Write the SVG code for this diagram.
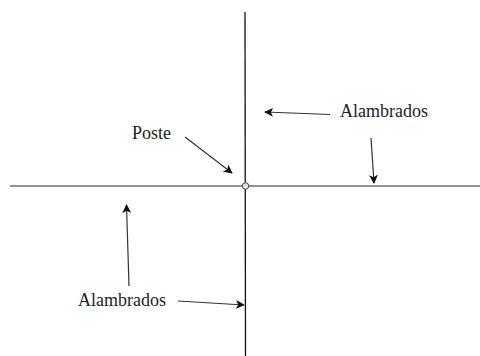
<svg xmlns="http://www.w3.org/2000/svg" width="480" height="356" viewBox="0 0 480 356">
  <style>
    .lbl { font-size: 18px; fill: #222; }
    .arr { stroke: #333; stroke-width: 1.2; fill: none; marker-end: url(#head); }
  </style>
  <defs>
    <marker id="head" viewBox="0 0 10 10" refX="9" refY="5" markerWidth="9" markerHeight="9" markerUnits="userSpaceOnUse" orient="auto">
      <path d="M0,0 L10,5 L0,10 L2.5,5 Z" fill="#111"/>
    </marker>
  </defs>
  <rect width="480" height="356" fill="#fff"/>

  <!-- fence lines and the post where they cross -->
  <g id="fences">
    <line x1="10" y1="186" x2="480" y2="186" stroke="#6e6e6e" stroke-width="1.6"/>
    <line x1="245" y1="12" x2="245.5" y2="356" stroke="#111" stroke-width="1.3"/>
  </g>
  <g id="post">
    <circle cx="245.5" cy="186" r="3.3" fill="#dce3f0" stroke="#444" stroke-width="1"/>
  </g>

  <g font-family="Liberation Serif, Times New Roman, DejaVu Serif, serif">
    <g id="label-poste"><text class="lbl" x="132" y="139">Poste</text></g>
    <g id="label-alambrados-top"><text class="lbl" x="340" y="117">Alambrados</text></g>
    <g id="label-alambrados-bottom"><text class="lbl" x="78" y="306">Alambrados</text></g>
  </g>

  <g id="connectors">
    <line class="arr" x1="185" y1="137" x2="232" y2="173"/>
    <line class="arr" x1="330" y1="114.5" x2="265" y2="112"/>
    <line class="arr" x1="371" y1="138" x2="374" y2="183"/>
    <line class="arr" x1="129" y1="286" x2="126.5" y2="205"/>
    <line class="arr" x1="178" y1="301" x2="244" y2="305"/>
  </g>
</svg>
